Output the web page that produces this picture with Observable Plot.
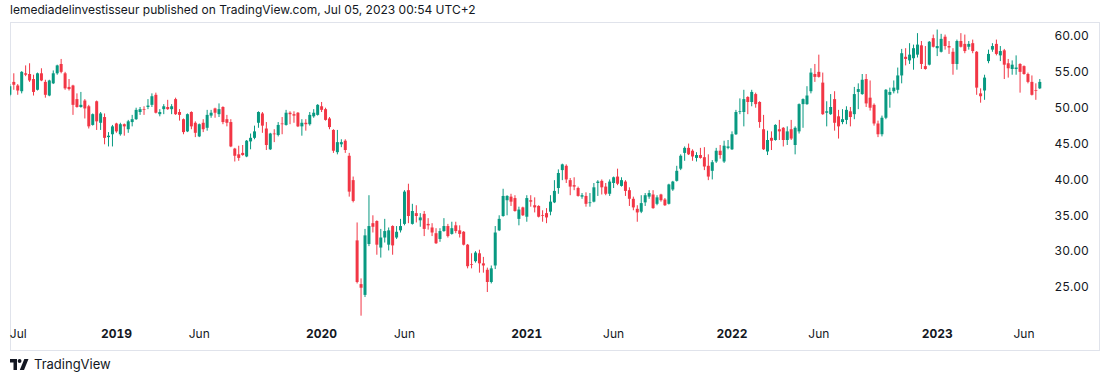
<!DOCTYPE html>
<html><head><meta charset="utf-8">
<script src="https://cdn.jsdelivr.net/npm/d3@7"></script>
<script src="https://cdn.jsdelivr.net/npm/@observablehq/plot@0.6"></script>
<style>
html,body{margin:0;padding:0;background:#fff;width:1110px;height:382px;overflow:hidden;font-family:Inter,Roboto,"Liberation Sans",sans-serif;color:#131722;}
#hdr{position:absolute;left:10px;top:3px;font-size:12px;line-height:14px;white-space:nowrap;}
#frame{position:absolute;left:10px;top:22px;width:1088px;height:327px;border:1px solid #e0e3eb;box-sizing:content-box;}
#chart{position:absolute;left:0;top:22px;}
#ftr{position:absolute;left:10px;top:356px;height:16px;display:flex;align-items:center;font-size:13px;}
#ftr svg{margin-right:5px;}
</style></head>
<body>
<div id="hdr">lemediadelinvestisseur published on TradingView.com, Jul 05, 2023 00:54 UTC+2</div>
<div id="frame"></div>
<div id="chart"></div>
<div id="ftr"><svg width="19" height="11" viewBox="0 0 19 11"><path d="M0 0H7V11H3.5V3.5H0Z" fill="#131722"/><circle cx="9.6" cy="2" r="1.9" fill="#131722"/><path d="M14.3 0H18.5L14 11H9.8Z" fill="#131722"/></svg><span>TradingView</span></div>
<script>
// Weekly candles, first week starting Monday 2018-07-02
const firstWeek = "2018-07-02";
const open = [51.8,53.6,53.1,52.3,54.8,54.7,54.0,52.5,54.8,53.6,51.7,53.4,54.8,56.1,54.8,52.9,53.1,51.2,50.1,51.0,50.2,47.6,50.9,47.9,48.7,45.9,46.3,47.8,46.3,47.7,47.0,48.0,48.4,49.4,49.8,50.1,50.4,51.8,49.1,49.8,50.1,49.8,51.2,49.4,48.4,46.7,49.4,47.9,46.0,47.9,47.2,48.9,49.9,49.1,50.1,48.4,48.0,44.3,43.5,43.7,43.2,45.3,45.8,47.9,49.2,47.1,44.2,46.4,46.2,47.8,47.6,49.3,49.1,49.3,47.4,47.9,47.7,48.8,49.0,50.2,49.8,48.5,46.9,43.8,44.9,45.4,43.3,39.9,31.5,25.4,23.9,31.0,33.9,34.2,30.5,31.9,30.9,33.5,31.9,32.9,33.8,38.5,33.8,35.3,34.3,35.2,33.8,33.3,32.5,31.7,32.8,33.5,32.4,33.6,32.9,32.7,30.9,28.2,28.6,29.7,28.3,27.4,25.7,28.0,32.9,34.9,37.1,37.6,37.4,34.5,36.1,34.8,37.1,36.4,36.3,35.0,35.3,35.5,36.8,38.8,41.3,41.9,39.9,39.2,38.8,37.6,37.7,36.7,36.9,39.5,39.8,39.0,38.0,39.5,40.4,39.1,39.7,38.5,37.3,35.9,35.5,36.8,37.6,37.9,36.6,37.9,37.2,36.6,38.6,39.8,41.5,43.7,44.4,44.0,43.0,43.4,43.1,41.9,41.2,42.5,44.0,42.5,44.4,44.2,46.3,49.4,49.4,51.5,50.8,51.9,50.8,47.0,43.9,45.8,45.5,47.0,47.2,45.5,47.0,44.8,46.7,50.5,50.5,52.3,54.7,55.0,53.5,49.3,49.1,51.2,48.8,48.0,48.3,49.5,49.1,52.2,51.9,54.0,51.4,50.4,47.8,46.3,48.6,51.8,52.3,52.5,54.5,57.1,56.6,56.9,57.4,58.7,55.8,56.0,59.7,58.3,57.8,59.9,58.6,57.8,56.1,59.3,58.9,58.5,59.0,57.8,52.0,52.4,56.5,58.1,58.9,57.3,58.0,56.2,55.4,55.4,56.1,55.8,54.7,53.6,52.45,52.7];
const high = [53.3,54.8,53.3,55.1,55.9,56.2,54.6,54.9,55.5,53.9,53.9,55.2,56.0,56.8,55.0,54.0,53.2,52.0,52.2,51.2,50.4,49.2,51.0,49.4,49.2,46.6,47.6,47.9,47.9,47.8,48.3,49.0,50.0,50.1,50.2,51.2,52.0,52.1,49.8,50.5,51.1,50.5,51.4,49.8,48.5,49.2,49.5,48.1,47.8,48.4,49.7,49.7,50.0,50.6,50.2,49.0,48.4,44.4,44.7,44.8,45.5,46.4,47.5,49.5,49.4,48.0,46.5,47.0,48.0,48.7,49.7,49.5,49.5,49.4,48.4,48.4,49.4,49.8,50.5,50.8,50.0,48.7,47.0,46.9,45.6,45.6,43.7,40.4,34.0,26.2,33.1,37.8,35.0,34.3,33.1,34.5,33.3,33.6,33.5,34.5,38.5,39.4,36.6,36.4,35.3,35.6,34.6,33.9,33.2,33.2,34.6,33.8,34.1,34.1,33.6,32.8,31.0,29.7,30.0,30.2,29.2,27.7,28.0,33.5,35.0,38.7,37.8,38.0,37.8,36.2,36.2,37.8,37.8,37.5,36.4,35.7,36.0,37.8,39.9,41.4,42.2,42.1,40.2,40.3,39.0,38.1,38.2,38.1,39.5,39.9,40.0,39.5,40.0,40.4,41.5,40.3,39.9,38.9,37.6,36.4,37.8,38.1,38.5,38.5,37.8,38.0,37.4,39.4,39.8,41.9,43.5,44.6,45.0,44.2,43.8,44.4,44.5,43.5,42.7,44.4,44.8,45.4,45.5,46.7,49.7,51.3,52.5,51.6,52.5,52.1,50.9,49.0,46.8,46.7,47.7,48.3,47.3,47.4,48.3,47.4,50.6,51.3,53.0,55.5,56.1,57.4,54.9,50.9,51.9,52.3,49.7,49.8,50.2,50.1,52.9,53.4,54.7,54.7,53.8,50.6,48.2,48.9,52.6,52.8,53.8,55.6,58.2,58.3,59.0,58.8,60.4,59.3,58.6,59.3,60.2,60.9,60.3,60.2,59.3,58.3,59.5,60.4,60.2,59.3,59.5,57.9,52.7,54.6,58.1,59.0,59.5,58.6,58.2,56.8,56.6,57.3,56.2,55.9,54.9,54.5,53.4,54.0];
const low = [51.6,52.5,51.8,52.0,54.4,53.6,51.7,52.4,53.7,51.4,51.6,53.3,54.6,54.8,52.5,52.4,49.0,50.0,50.0,48.5,47.1,47.5,46.9,46.9,44.9,44.6,44.6,46.5,46.1,46.1,46.5,47.4,48.3,49.0,49.0,49.8,50.1,49.2,48.8,49.1,49.7,49.1,49.0,48.2,46.3,46.6,47.0,45.9,45.9,46.6,46.8,48.6,48.6,48.7,47.7,47.4,44.5,42.5,42.6,43.3,43.1,44.2,45.6,47.2,46.5,44.1,44.1,45.2,46.0,46.3,47.5,47.7,47.9,47.3,46.1,46.8,47.5,48.6,48.9,49.4,48.2,47.0,43.7,43.5,44.5,43.7,37.6,36.8,25.5,21.0,23.6,30.7,32.6,29.5,29.1,31.2,30.1,29.5,31.7,32.6,33.6,33.9,33.7,34.0,33.4,32.1,33.0,32.1,31.0,31.3,32.7,31.9,32.3,32.5,31.9,30.8,27.6,27.6,28.4,27.0,27.0,24.3,25.5,27.5,32.8,34.8,35.0,36.3,35.5,33.6,34.9,34.1,36.2,35.4,34.7,34.1,33.9,35.0,36.7,38.0,39.9,39.5,37.8,38.5,37.6,37.3,36.2,36.2,36.8,37.7,37.9,37.8,37.7,38.8,39.2,39.0,37.7,36.3,35.7,34.1,35.3,36.3,37.3,35.9,36.4,36.9,36.3,36.5,38.4,39.7,41.3,42.6,43.4,42.6,42.5,42.9,41.3,39.9,40.0,42.3,42.9,42.3,44.2,44.1,46.2,49.1,47.4,49.1,50.2,50.0,47.2,44.1,43.4,44.1,45.4,45.5,44.6,44.8,45.5,43.5,46.4,47.2,50.4,52.0,53.6,54.2,49.0,47.4,49.0,46.8,45.7,47.7,47.7,47.4,48.4,49.8,51.8,50.1,49.6,47.5,45.9,46.0,48.4,50.0,52.0,52.0,53.4,55.9,56.1,55.3,57.0,55.4,55.3,55.9,58.4,57.2,57.7,58.1,57.5,54.6,55.3,58.4,57.6,58.1,57.6,51.8,50.7,51.1,56.2,57.8,57.3,56.5,54.0,54.2,54.6,54.6,52.1,54.6,53.4,51.7,51.1,52.6];
const close = [53.0,53.2,52.4,55.0,54.6,53.8,52.2,54.8,53.8,51.8,53.8,54.8,55.9,55.0,52.7,52.6,50.4,50.1,50.4,49.9,47.4,49.1,48.1,49.2,45.8,46.1,47.4,46.7,47.7,47.4,48.1,48.4,49.7,49.8,49.7,50.3,51.6,49.3,49.4,50.2,49.8,50.2,49.1,49.0,46.6,49.1,47.4,46.5,47.7,47.0,49.0,49.3,49.3,49.8,48.0,47.9,44.6,43.3,43.0,43.4,45.4,45.8,46.7,49.4,47.5,44.8,46.4,46.3,47.6,47.7,49.3,49.1,48.9,47.4,47.9,47.7,49.0,49.3,50.4,49.7,48.3,47.3,44.0,45.2,45.2,44.1,38.3,37.0,25.7,24.9,32.2,33.5,33.4,30.9,31.9,32.8,32.9,30.8,32.7,33.5,38.3,34.9,35.6,34.9,34.7,33.1,33.6,32.6,31.1,32.8,33.5,32.1,33.2,32.8,32.4,30.9,27.9,28.1,29.8,28.3,28.0,25.7,27.6,32.6,34.5,37.7,37.7,36.9,35.6,35.8,35.0,37.4,36.9,36.1,34.8,34.9,34.7,36.9,38.4,40.9,42.1,40.0,39.0,39.0,37.7,37.8,36.6,36.8,38.9,39.7,38.9,38.0,39.7,40.3,39.4,39.9,38.4,37.3,36.1,35.4,36.7,37.8,38.1,36.0,37.5,37.1,36.4,39.3,39.7,41.2,43.3,44.4,43.5,43.2,43.4,43.0,41.8,40.4,42.4,44.0,43.4,44.7,44.6,46.3,49.4,49.5,51.2,50.8,52.2,50.5,48.0,44.2,45.5,45.4,47.6,46.7,45.5,46.7,45.7,47.2,50.5,51.2,51.7,54.9,54.3,54.3,49.1,49.5,50.1,47.9,47.4,48.4,49.7,48.7,51.9,52.6,53.9,50.6,50.0,47.8,46.3,48.6,52.5,52.2,52.8,54.5,57.6,56.8,57.4,58.3,58.8,56.1,55.4,59.2,58.5,58.6,59.6,58.6,58.4,56.1,59.3,58.5,57.9,58.9,57.9,52.8,51.6,54.2,57.5,58.6,57.5,57.9,56.0,55.5,56.0,55.6,55.0,54.7,53.6,51.8,52.35,53.6];

// Time-axis labels
const tickDates = ["2018-07-02","2019-01-07","2019-06-03","2020-01-06","2020-06-01","2021-01-04","2021-06-07","2022-01-03","2022-06-06","2023-01-02","2023-06-05"];
const tickLabels = ["Jul","2019","Jun","2020","Jun","2021","Jun","2022","Jun","2023","Jun"];
const priceTicks = [25,30,35,40,45,50,55,60];

const TEAL = "#089981", RED = "#F23645";
const start = new Date(firstWeek + "T00:00:00Z");
const candles = open.map((o, i) => ({
  date: d3.utcMonday.offset(start, i), open: o, high: high[i], low: low[i], close: close[i]
}));
const up = candles.filter(d => d.close >= d.open);
const down = candles.filter(d => d.close < d.open);

// layout: plot area x 10..1048 ; second candle at 13.3, last at 1039.3
const DAY = 864e5;
const d1 = +candles[1].date, dN = +candles[candles.length-1].date;
const pxPerDay = (1039.3 - 13.3) / ((dN - d1) / DAY);
const xDomain = [new Date(d1 - (13.3 - 10) / pxPerDay * DAY), new Date(dN + (1048 - 1039.3) / pxPerDay * DAY)];
const pxPerUnit = (265 - 14) / 35;
const yDomain = [25 - (300 - 265) / pxPerUnit, 60 + 14 / pxPerUnit];

const ticks = tickDates.map((t, i) => ({date: new Date(t + "T00:00:00Z"), label: tickLabels[i], bold: /^\d{4}$/.test(tickLabels[i])}));
const fmt = new Map(ticks.map(t => [+t.date, t.label]));

const chart = Plot.plot({
  width: 1110, height: 328,
  marginLeft: 10, marginRight: 62, marginTop: 0, marginBottom: 28,
  style: {fontFamily: "Inter, Roboto, sans-serif", fontSize: "12px", color: "#131722", background: "transparent", overflow: "visible"},
  x: {type: "utc", domain: xDomain},
  y: {domain: yDomain},
  marks: [
    Plot.ruleX(down, {x: "date", y1: "low", y2: "high", stroke: RED, strokeWidth: 1, clip: true}),
    Plot.ruleX(up, {x: "date", y1: "low", y2: "high", stroke: TEAL, strokeWidth: 1, clip: true}),
    Plot.ruleX(down, {x: "date", y1: "open", y2: "close", stroke: RED, strokeWidth: 3, clip: true}),
    Plot.ruleX(up, {x: "date", y1: "open", y2: "close", stroke: TEAL, strokeWidth: 3, clip: true}),
    Plot.axisY({anchor: "right", ticks: priceTicks, tickFormat: d => d.toFixed(2), tickSize: 0, tickPadding: 6, label: null, fill: "#131722"}),
    Plot.axisX({ticks: ticks.filter(t => t.label === "Jul").map(t => t.date), tickFormat: d => fmt.get(+d), tickSize: 0, tickPadding: 7, label: null, textAnchor: "start", fill: "#131722"}),
    Plot.axisX({ticks: ticks.filter(t => !t.bold && t.label !== "Jul").map(t => t.date), tickFormat: d => fmt.get(+d), tickSize: 0, tickPadding: 7, label: null, fill: "#131722"}),
    Plot.axisX({ticks: ticks.filter(t => t.bold).map(t => t.date), tickFormat: d => fmt.get(+d), tickSize: 0, tickPadding: 7, label: null, fill: "#131722", fontWeight: "bold"})
  ]
});
document.getElementById("chart").appendChild(chart);
</script>
</body></html>
